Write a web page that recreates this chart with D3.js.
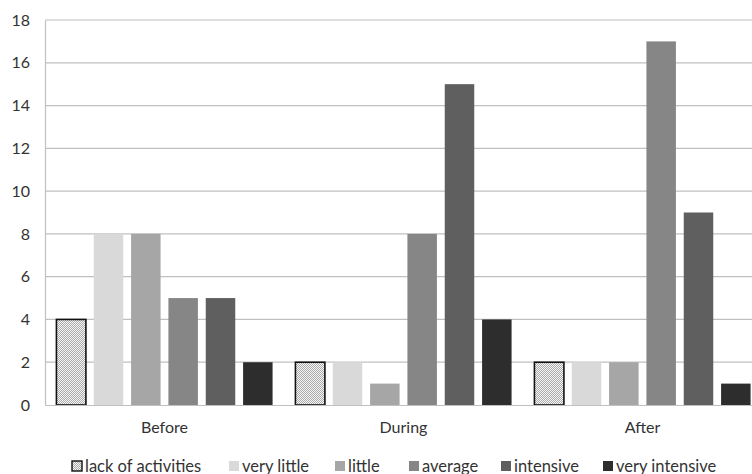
<!DOCTYPE html>
<html><head><meta charset="utf-8">
<script src="https://cdn.jsdelivr.net/npm/d3@7"></script>
<style>body{margin:0;background:#fff;overflow:hidden}svg{display:block}</style>
</head><body>
<script>
const categories = ["Before", "During", "After"];
const seriesNames = ["lack of activities", "very little", "little", "average", "intensive", "very intensive"];
const lackOfActivities = [4, 2, 2];
const veryLittle = [8, 2, 2];
const little = [8, 1, 2];
const average = [5, 8, 17];
const intensive = [5, 15, 9];
const veryIntensive = [2, 4, 1];
const yTicks = [0, 2, 4, 6, 8, 10, 12, 14, 16, 18];

const seriesValues = [lackOfActivities, veryLittle, little, average, intensive, veryIntensive];
const colors = ["url(#dots)", "#d9d9d9", "#a6a6a6", "#868686", "#5f5f5f", "#2d2d2d"];

const W = 752, H = 474;
const mLeft = 45, mRight = 762, mTop = 20, mBottom = 405;
const font = "Lato, 'Open Sans', sans-serif";
const textColor = "#333";

const svg = d3.select("body").append("svg").attr("width", W).attr("height", H);
const defs = svg.append("defs");
const pat = defs.append("pattern").attr("id", "dots").attr("width", 2).attr("height", 2).attr("patternUnits", "userSpaceOnUse");
pat.append("rect").attr("width", 2).attr("height", 2).attr("fill", "#f6f6f6");
pat.append("rect").attr("width", 1).attr("height", 1).attr("fill", "#aaaaaa");
pat.append("rect").attr("x", 1).attr("y", 1).attr("width", 1).attr("height", 1).attr("fill", "#aaaaaa");

const y = d3.scaleLinear().domain([0, 18]).range([mBottom, mTop]);
const x0 = d3.scaleBand().domain(categories).range([mLeft, mRight]).paddingInner(0).paddingOuter(0);
const x1 = d3.scaleBand().domain(d3.range(seriesNames.length)).range([7.5, x0.bandwidth() - 7.5]).paddingInner(0.21).paddingOuter(0.105);

// gridlines
svg.append("g").selectAll("line").data(yTicks.filter(d => d > 0)).join("line")
  .attr("x1", mLeft).attr("x2", W).attr("y1", d => y(d)).attr("y2", d => y(d))
  .attr("stroke", "#c0c0c0").attr("stroke-width", 1.2);

// y axis
const yAxis = svg.append("g").attr("transform", `translate(${mLeft},0)`)
  .call(d3.axisLeft(y).tickValues(yTicks).tickSize(0).tickPadding(15));
yAxis.select(".domain").attr("stroke", "#c0c0c0").attr("stroke-width", 1.2);
yAxis.selectAll("text").attr("font-family", font).attr("font-size", 16).attr("fill", textColor);

// bars
const groups = svg.append("g").selectAll("g").data(categories).join("g")
  .attr("transform", d => `translate(${x0(d)},0)`);
groups.selectAll("rect").data((c, ci) => seriesValues.map((s, si) => ({si, v: s[ci]}))).join("rect")
  .attr("x", d => x1(d.si)).attr("width", x1.bandwidth())
  .attr("y", d => y(d.v)).attr("height", d => mBottom - y(d.v))
  .attr("fill", d => colors[d.si])
  .attr("stroke", d => d.si === 0 ? "#111" : "none")
  .attr("stroke-width", 1.6);

// x axis
const xAxis = svg.append("g").attr("transform", `translate(0,${mBottom})`)
  .call(d3.axisBottom(x0).tickSize(0).tickPadding(17));
xAxis.select(".domain").attr("stroke", "#c0c0c0").attr("stroke-width", 1.2);
xAxis.selectAll("text").attr("font-family", font).attr("font-size", 16).attr("fill", textColor);

// legend
const legendX = [72, 229, 335, 409, 501, 603];
const lg = svg.append("g").selectAll("g").data(seriesNames).join("g")
  .attr("transform", (d, i) => `translate(${legendX[i]},461)`);
lg.append("rect").attr("width", 10).attr("height", 10)
  .attr("fill", (d, i) => colors[i])
  .attr("stroke", (d, i) => i === 0 ? "#111" : "none").attr("stroke-width", 1.4);
lg.append("text").attr("x", 13).attr("y", 10.5).text(d => d)
  .attr("font-family", font).attr("font-size", 16.5).attr("fill", textColor);
</script>
</body></html>
